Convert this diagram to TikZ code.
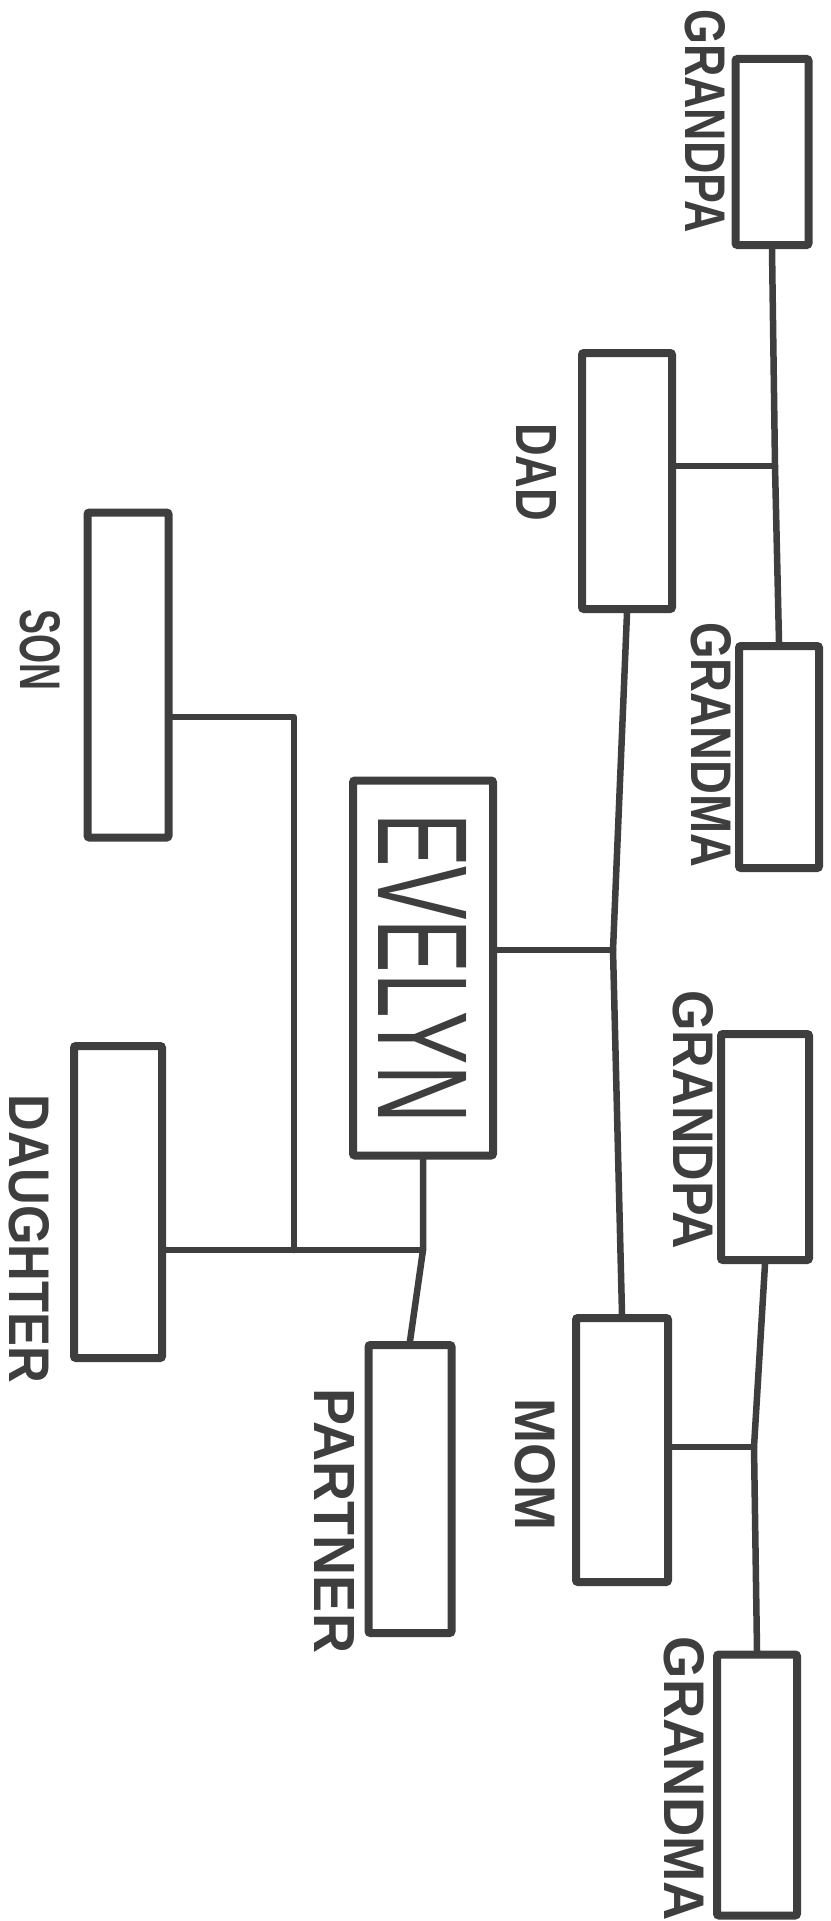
\documentclass[tikz,border=0pt]{standalone}
\usepackage{fontspec}
\setmainfont{Liberation Sans}
\usetikzlibrary{positioning}
\definecolor{pencil}{RGB}{62,62,62}
\newcommand{\handtext}[2]{\resizebox{#1pt}{40pt}{\bfseries #2}}

\begin{document}
\begin{tikzpicture}[x=1pt, y=-1pt,
    person/.style={rectangle, draw=pencil, line width=8pt, rounded corners=2pt, inner sep=0pt},
    tag/.style={rotate=-90, inner sep=0pt, text=pencil},
    link/.style={draw=pencil, line width=6.5pt, line cap=round, line join=round}
  ]
    \useasboundingbox (0,0) rectangle (830,1921);
    % boxes
    \node[person, minimum width=73pt, minimum height=186pt] (gpaD) at (772,152)  {};
    \node[person, minimum width=90pt, minimum height=256pt] (dad)  at (627,481)  {};
    \node[person, minimum width=80pt, minimum height=222pt] (gmaD) at (779,757)  {};
    \node[person, minimum width=81pt, minimum height=325pt] (son)  at (128,675)  {};
    \node[person, minimum width=140pt, minimum height=375pt] (eve) at (423,968)  {};
    \node[person, minimum width=88pt, minimum height=226pt] (gpaM) at (765,1147) {};
    \node[person, minimum width=88pt, minimum height=312pt] (dau)  at (118,1202) {};
    \node[person, minimum width=92pt, minimum height=264pt] (mom)  at (622,1450) {};
    \node[person, minimum width=83pt, minimum height=288pt] (ptn)  at (410,1489) {};
    \node[person, minimum width=80pt, minimum height=261pt] (gmaM) at (757,1785) {};
    % names
    \node[tag] (tGpaD) at (705,121)  {\handtext{223}{GRANDPA}};
    \node[tag] (tDad)  at (536,472)  {\handtext{98}{DAD}};
    \node[tag] (tGmaD) at (711,745)  {\handtext{245}{GRANDMA}};
    \node[tag] (tSon)  at (40,650)   {\handtext{81}{SON}};
    \node[tag] (tGpaM) at (693,1120) {\handtext{259}{GRANDPA}};
    \node[tag] (tDau)  at (29,1239)  {\handtext{288}{DAUGHTER}};
    \node[tag] (tMom)  at (535,1464) {\handtext{132}{MOM}};
    \node[tag] (tPtn)  at (334,1521) {\handtext{264}{PARTNER}};
    \node[tag] (tGmaM) at (684,1779) {\handtext{284}{GRANDMA}};
    \node[tag] (tEve)  at (eve.center) {\resizebox{310pt}{88pt}{EVELYN}};
    % joints
    \coordinate (jD) at (775,466);
    \coordinate (jE) at (613,950);
    \coordinate (jM) at (754,1447);
    \coordinate (jC) at (423,1250);
    \coordinate (jS) at (294,717);
    % lines
    \draw[link] (gpaD.south) -- (jD) -- (gmaD.north);
    \draw[link] (jD) -- (dad.east |- jD);
    \draw[link] (dad.south) -- (jE) -- (mom.north);
    \draw[link] (jE) -- (eve.east |- jE);
    \draw[link] (gpaM.south) -- (jM) -- (gmaM.north);
    \draw[link] (jM) -- (mom.east |- jM);
    \draw[link] (eve.south) -- (jC) -- (ptn.north);
    \draw[link] (jC) -- (dau.east |- jC);
    \draw[link] (son.east |- jS) -- (jS) -- (jS |- jC);
  \end{tikzpicture}
\end{document}
